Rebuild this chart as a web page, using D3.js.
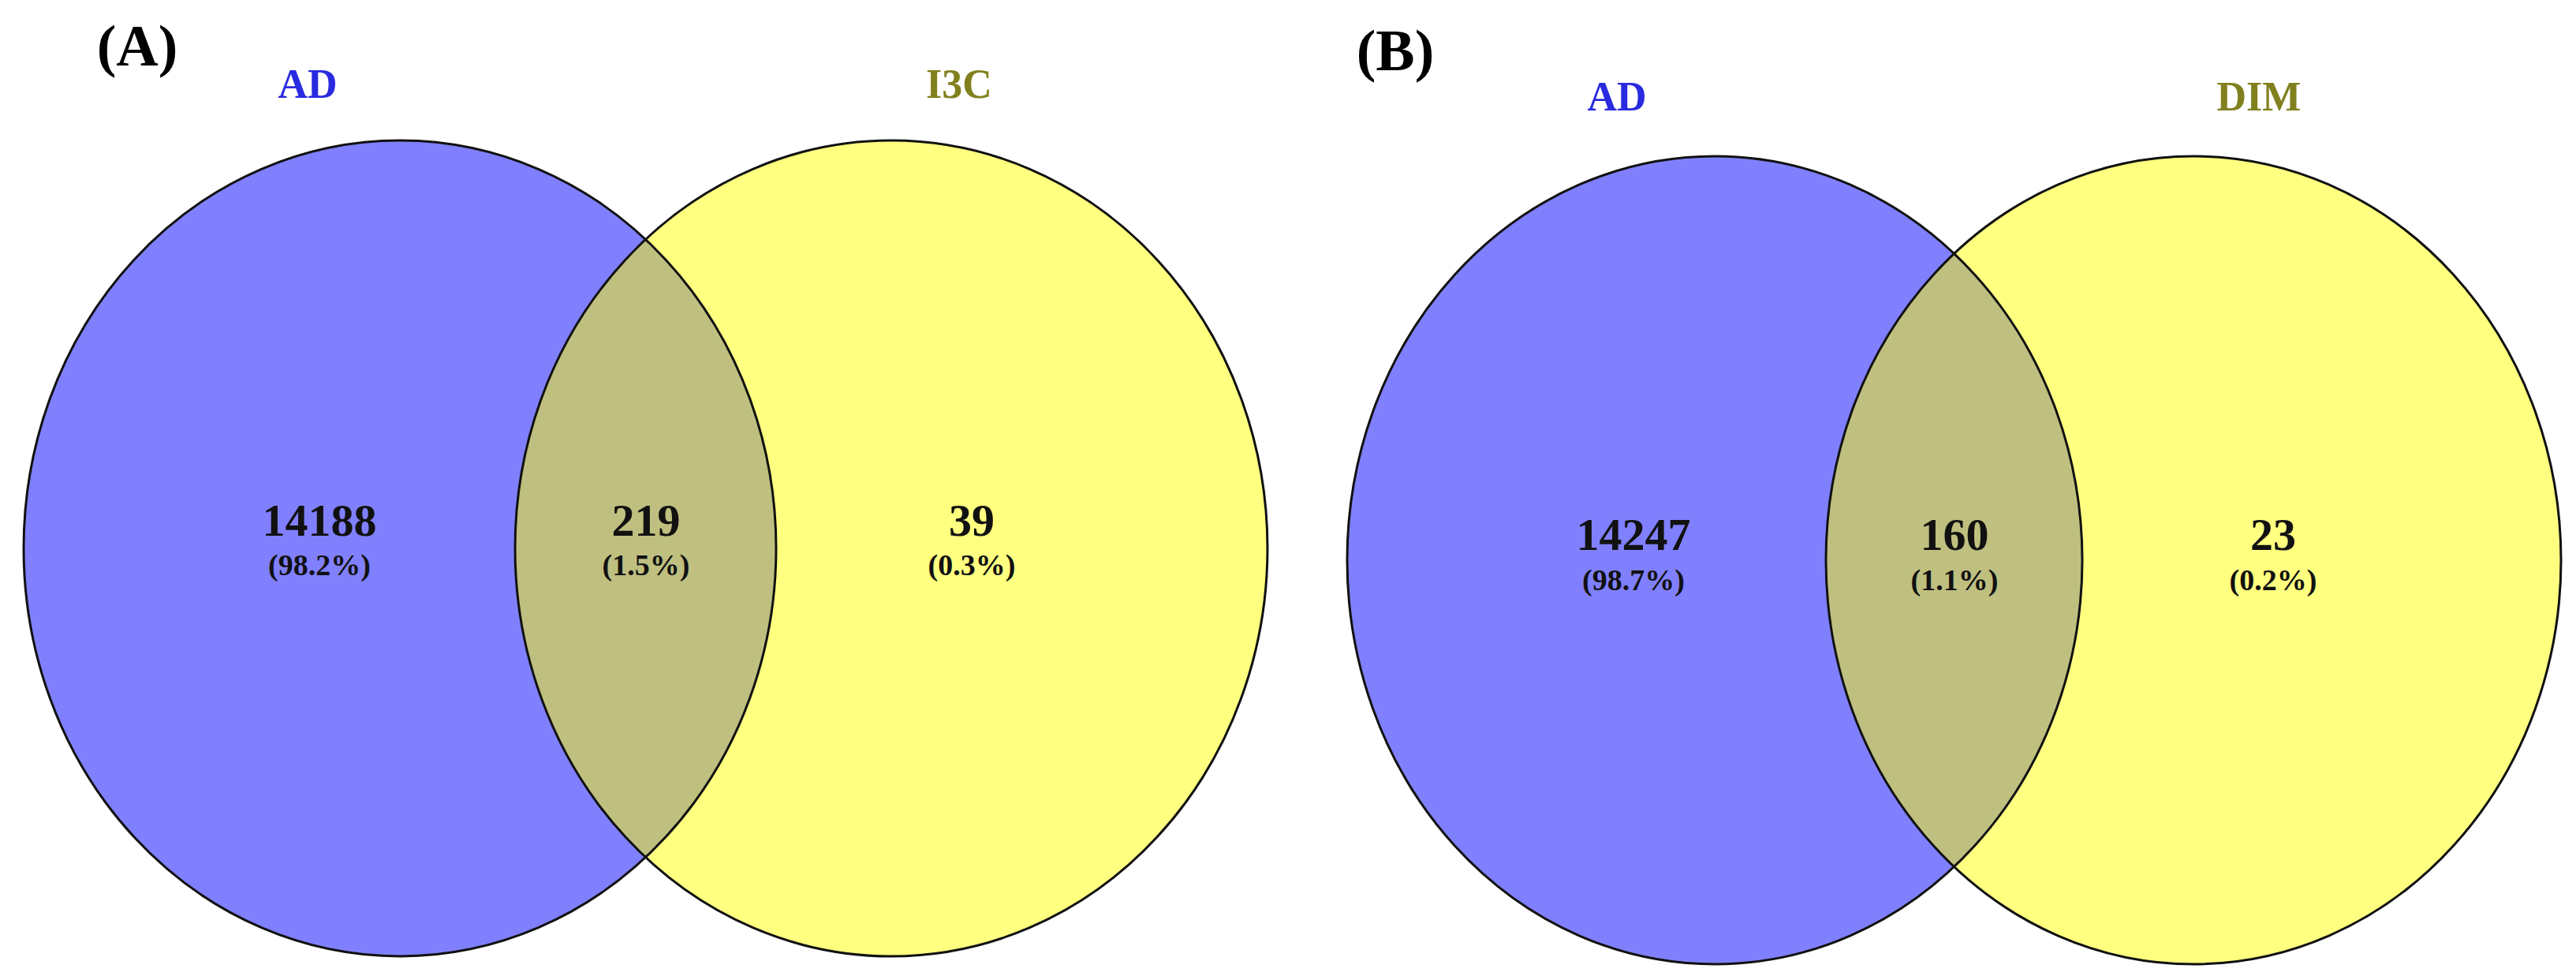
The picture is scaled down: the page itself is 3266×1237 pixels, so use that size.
<!DOCTYPE html>
<html>
<head>
<meta charset="utf-8">
<script src="https://cdn.jsdelivr.net/npm/d3@7"></script>
<style>
  body { margin: 0; background: #fff; }
  text { font-family: "Liberation Serif", "Times New Roman", serif; font-weight: bold; }
</style>
</head>
<body>
<div id="venn"></div>
<script>
// panel data
var panelTags = ["(A)", "(B)"];
var leftSets = ["AD", "AD"];
var rightSets = ["I3C", "DIM"];
var onlyLeft = [14188, 14247];
var shared = [219, 160];
var onlyRight = [39, 23];
var pctLeft = ["98.2%", "98.7%"];
var pctShared = ["1.5%", "1.1%"];
var pctRight = ["0.3%", "0.2%"];

var svgWidth = 3266;
var svgHeight = 1237;

var svg = d3.select("#venn")
    .append("svg")
    .attr("width", svgWidth)
    .attr("height", svgHeight);

// layout for each panel
var layout = [
    { tag: [174, 66], bl: 507, yl: 1130, cy: 695, rx: 477, ry: 517, labY: 112, lab: [390, 1216], numY: 666, pctY: 720, nx: [405, 819, 1232] },
    { tag: [1769, 72], bl: 2174, yl: 2781, cy: 710, rx: 466, ry: 512, labY: 128, lab: [2050, 2864], numY: 684, pctY: 739, nx: [2071, 2478, 2882] }
];

layout.forEach(function(L, i) {
    var g = svg.append("g");

    g.append("clipPath")
        .attr("id", "clip" + i)
        .append("ellipse")
        .attr("cx", L.bl).attr("cy", L.cy).attr("rx", L.rx).attr("ry", L.ry);

    g.append("ellipse")
        .attr("cx", L.bl).attr("cy", L.cy).attr("rx", L.rx).attr("ry", L.ry)
        .attr("fill", "#8080ff");
    g.append("ellipse")
        .attr("cx", L.yl).attr("cy", L.cy).attr("rx", L.rx).attr("ry", L.ry)
        .attr("fill", "#ffff80");
    g.append("ellipse")
        .attr("cx", L.yl).attr("cy", L.cy).attr("rx", L.rx).attr("ry", L.ry)
        .attr("clip-path", "url(#clip" + i + ")")
        .attr("fill", "#bfbf80");

    [L.bl, L.yl].forEach(function(cx) {
        g.append("ellipse")
            .attr("cx", cx).attr("cy", L.cy).attr("rx", L.rx).attr("ry", L.ry)
            .attr("fill", "none")
            .attr("stroke", "#111")
            .attr("stroke-width", 3);
    });

    g.append("text")
        .attr("x", L.tag[0]).attr("y", L.tag[1])
        .attr("text-anchor", "middle").attr("dominant-baseline", "middle")
        .attr("font-size", 74).attr("fill", "#000")
        .text(panelTags[i]);

    g.append("text")
        .attr("x", L.lab[0]).attr("y", L.labY)
        .attr("text-anchor", "middle").attr("dominant-baseline", "middle")
        .attr("font-size", 52).attr("fill", "#2a2ae0")
        .text(leftSets[i]);
    g.append("text")
        .attr("x", L.lab[1]).attr("y", L.labY)
        .attr("text-anchor", "middle").attr("dominant-baseline", "middle")
        .attr("font-size", 52).attr("fill", "#80801e")
        .text(rightSets[i]);

    var nums = [onlyLeft[i], shared[i], onlyRight[i]];
    var pcts = [pctLeft[i], pctShared[i], pctRight[i]];
    nums.forEach(function(n, j) {
        g.append("text")
            .attr("x", L.nx[j]).attr("y", L.numY)
            .attr("text-anchor", "middle").attr("dominant-baseline", "middle")
            .attr("font-size", 58).attr("fill", "#111")
            .text(n);
        g.append("text")
            .attr("x", L.nx[j]).attr("y", L.pctY)
            .attr("text-anchor", "middle").attr("dominant-baseline", "middle")
            .attr("font-size", 38).attr("fill", "#111")
            .text("(" + pcts[j] + ")");
    });
});
</script>
</body>
</html>
